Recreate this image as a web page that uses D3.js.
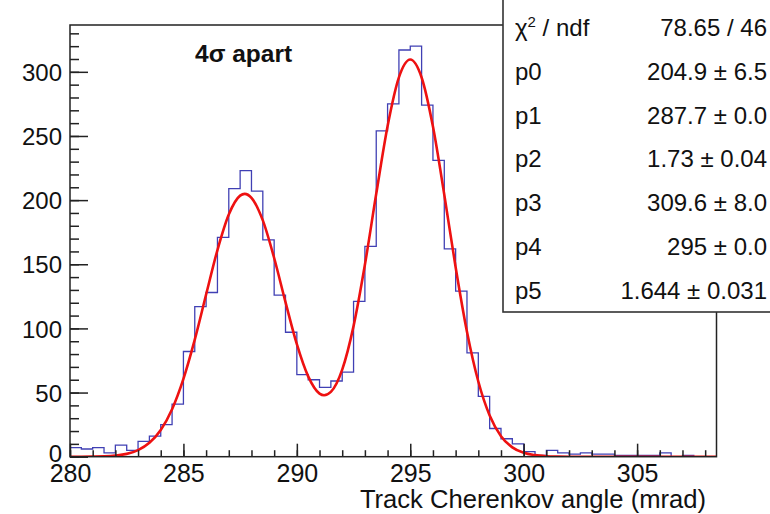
<!DOCTYPE html>
<html>
<head>
<meta charset="utf-8">
<script src="https://cdn.jsdelivr.net/npm/d3@7"></script>
<style>
  html, body { margin: 0; padding: 0; background: #fff; }
  svg { display: block; }
  text { font-family: "Liberation Sans", Arial, Helvetica, sans-serif; fill: #111; }
</style>
</head>
<body>
<svg id="chart" width="770" height="514"></svg>
<script>
// ---- data ----
const binStart = 280.0;
const binWidth = 0.5;
const counts = [
  7, 6, 7, 3, 9, 5, 12, 16, 25, 41,
  82, 117, 128, 171, 209, 223, 207, 169, 126, 97,
  64, 60, 54, 59, 66, 121, 164, 254, 275, 317,
  320, 274, 231, 162, 129, 81, 47, 22, 14, 10,
  4, 1, 5, 3, 2, 3, 2, 2, 1, 1,
  1, 1, 3, 0, 1, 0, 0
];
// fit curve
const fitX = [280, 280.5, 281, 281.5, 282, 282.5, 283, 283.5, 284, 284.5,
  285, 285.5, 286, 286.5, 287, 287.5, 287.7, 288, 288.5, 289,
  289.5, 290, 290.5, 291, 291.2, 291.5, 292, 292.5, 293, 293.5,
  294, 294.5, 295, 295.5, 296, 296.5, 297, 297.5, 298, 298.5,
  299, 299.5, 300, 300.5, 301, 301.5, 302, 303, 304, 305, 306, 307, 308, 308.5];
const fitY = [0, 0, 0.1, 0.3, 0.9, 2.2, 5.1, 10.8, 20.8, 37.0,
  60.6, 91.2, 126.4, 161.1, 188.8, 203.5, 204.9, 201.8, 184.2, 154.9,
  120.5, 87.7, 62.6, 49.2, 47.9, 50.5, 67.9, 101.8, 149.6, 204.9,
  257.6, 295.7, 309.6, 295.6, 257.3, 204.2, 147.7, 97.4, 58.6, 32.1,
  16.0, 7.3, 3.0, 1.2, 0.4, 0.1, 0, 0, 0, 0, 0, 0, 0, 0];
const xMajorTicks = [280, 285, 290, 295, 300, 305];
const xMinorTicks = d3.range(280, 309, 1);
const yMajorTicks = [0, 50, 100, 150, 200, 250, 300];
const yMinorTicks = d3.range(0, 337, 10);
const xTitle = "Track Cherenkov angle (mrad)";
const annotation = "4σ apart";
const statLabels = ["p0", "p1", "p2", "p3", "p4", "p5"];
const statValues = ["204.9 ± 6.5", "287.7 ± 0.0", "1.73 ± 0.04", "309.6 ± 8.0", "295 ± 0.0", "1.644 ± 0.031"];
const chi2Value = "78.65 / 46";

// ---- layout ----
const svg = d3.select("#chart");
const L = 70, R = 716.5, T = 25, B = 456.7;
const x = d3.scaleLinear().domain([280, 308.5]).range([L, R]);
const y = d3.scaleLinear().domain([0, 336.5]).range([B, T]);

svg.append("defs").append("clipPath").attr("id", "clip")
  .append("rect").attr("x", L).attr("y", T).attr("width", R - L).attr("height", B - T);

// histogram
const histPts = counts.map((c, i) => [binStart + i * binWidth, c]);
histPts.push([binStart + counts.length * binWidth, counts[counts.length - 1]]);
svg.append("path")
  .attr("clip-path", "url(#clip)")
  .attr("d", d3.line().x(d => x(d[0])).y(d => y(d[1])).curve(d3.curveStepAfter)(histPts))
  .attr("fill", "none").attr("stroke", "#4040b4").attr("stroke-width", 1.3);

// fit
svg.append("path")
  .attr("clip-path", "url(#clip)")
  .attr("d", d3.line().x((d, i) => x(fitX[i])).y(d => y(d)).curve(d3.curveMonotoneX)(fitY))
  .attr("fill", "none").attr("stroke", "#ee1111").attr("stroke-width", 2.6);

// axes
const axisColor = "#222";
function styleAxis(g) {
  g.select(".domain").remove();
  g.selectAll("line").attr("stroke", axisColor).attr("stroke-width", 1.5);
  g.selectAll("text").attr("font-family", "Liberation Sans, Arial, sans-serif").attr("fill", "#111");
}
svg.append("g").attr("transform", `translate(0,${B})`)
  .call(d3.axisBottom(x).tickValues(xMinorTicks).tickSize(-6.5).tickFormat(""))
  .call(styleAxis);
svg.append("g").attr("transform", `translate(0,${B})`)
  .call(d3.axisBottom(x).tickValues(xMajorTicks).tickSize(-13).tickPadding(6).tickFormat(d3.format("d")))
  .call(styleAxis)
  .call(g => g.selectAll("text").attr("font-size", 25).attr("dy", "0.78em"));

svg.append("g").attr("transform", `translate(${L},0)`)
  .call(d3.axisLeft(y).tickValues(yMinorTicks).tickSize(-9).tickFormat(""))
  .call(styleAxis);
svg.append("g").attr("transform", `translate(${L},0)`)
  .call(d3.axisLeft(y).tickValues(yMajorTicks).tickSize(-18).tickPadding(8).tickFormat(d3.format("d")))
  .call(styleAxis)
  .call(g => g.selectAll("text").attr("font-size", 24)
    .attr("dy", d => d === 0 ? "0.2em" : "0.36em"));

// frame
svg.append("rect").attr("x", L).attr("y", T).attr("width", R - L).attr("height", B - T)
  .attr("fill", "none").attr("stroke", axisColor).attr("stroke-width", 1.5);

// axis title
svg.append("text").attr("x", 706).attr("y", 508).attr("text-anchor", "end")
  .attr("font-size", 25.6).text(xTitle);

// annotation
svg.append("text").attr("x", 195).attr("y", 61.5)
  .attr("font-size", 24.5).attr("font-weight", "bold").text(annotation);

// stats box
const box = svg.append("g");
box.append("rect").attr("x", 503).attr("y", -5).attr("width", 300).attr("height", 317)
  .attr("fill", "#fff").attr("stroke", "#333").attr("stroke-width", 1.6);
const rowY = i => 36 + i * 43.8;
const fs = 24;
const chi = box.append("text").attr("x", 515).attr("y", rowY(0)).attr("font-size", fs);
chi.append("tspan").text("χ");
chi.append("tspan").attr("font-size", 15).attr("dy", -9).text("2");
chi.append("tspan").attr("dy", 9).text(" / ndf");
box.append("text").attr("x", 767).attr("y", rowY(0)).attr("text-anchor", "end")
  .attr("font-size", fs).text(chi2Value);
statLabels.forEach((lab, i) => {
  box.append("text").attr("x", 515).attr("y", rowY(i + 1)).attr("font-size", fs).text(lab);
  box.append("text").attr("x", 767).attr("y", rowY(i + 1)).attr("text-anchor", "end")
    .attr("font-size", fs).text(statValues[i]);
});
</script>
</body>
</html>
